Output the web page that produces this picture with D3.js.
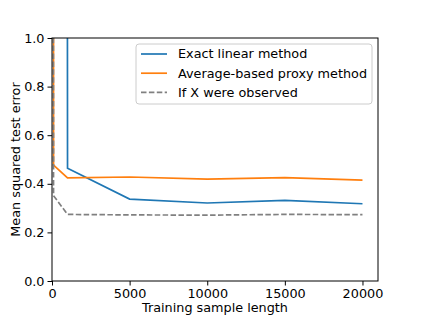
<!DOCTYPE html>
<html>
<head>
<meta charset="utf-8">
<script src="https://cdn.jsdelivr.net/npm/d3@7"></script>
<style>
  body { margin: 0; background: #ffffff; }
  text { font-family: "DejaVu Sans", sans-serif; }
</style>
</head>
<body>
<script>
// training sample lengths and mean squared test errors (values above 1 are off the top)
var sampleLengths = [10, 100, 1000, 5000, 10000, 15000, 20000];
var exactLinear = [300, 80, 0.464, 0.337, 0.321, 0.332, 0.318];
var proxyMethod = [20, 0.477, 0.424, 0.428, 0.419, 0.425, 0.415];
var ifObserved = [5, 0.351, 0.274, 0.272, 0.271, 0.274, 0.273];
var seriesNames = ["Exact linear method", "Average-based proxy method", "If X were observed"];
var xTicks = [0, 5000, 10000, 15000, 20000];
var yTicks = [0, 0.2, 0.4, 0.6, 0.8, 1.0];

var width = 421, height = 316,
    margin = { left: 52, top: 38, right: 43, bottom: 35 },
    plotW = width - margin.left - margin.right,
    plotH = height - margin.top - margin.bottom;

var series = [
    { name: seriesNames[0], values: exactLinear, color: "#1f77b4", dash: null },
    { name: seriesNames[1], values: proxyMethod, color: "#ff7f0e", dash: null },
    { name: seriesNames[2], values: ifObserved, color: "#808080", dash: "5.5,2.4" }
];

var x = d3.scaleLinear().domain([0, 21000]).range([0, plotW]);
var y = d3.scaleLinear().domain([0, 1]).range([plotH, 0]);

var svg = d3.select("body").append("svg")
    .attr("width", width)
    .attr("height", height);

var g = svg.append("g")
    .attr("transform", "translate(" + margin.left + "," + margin.top + ")");

g.append("clipPath").attr("id", "plotClip")
    .append("rect").attr("width", plotW).attr("height", plotH);

var line = d3.line()
    .x(function (d) { return x(d[0]); })
    .y(function (d) { return y(d[1]); });

g.append("g").attr("clip-path", "url(#plotClip)")
    .selectAll("path")
    .data(series)
    .enter().append("path")
    .attr("fill", "none")
    .attr("stroke", function (d) { return d.color; })
    .attr("stroke-width", 1.7)
    .attr("stroke-dasharray", function (d) { return d.dash; })
    .attr("d", function (d) { return line(d3.zip(sampleLengths, d.values)); });

// axes
var xAxis = g.append("g")
    .attr("transform", "translate(0," + plotH + ")")
    .call(d3.axisBottom(x).tickValues(xTicks).tickFormat(d3.format("d")).tickSizeOuter(0).tickSize(4.5).tickPadding(3));

var yAxis = g.append("g")
    .call(d3.axisLeft(y).tickValues(yTicks).tickFormat(d3.format(".1f")).tickSizeOuter(0).tickSize(4.5).tickPadding(3));

[xAxis, yAxis].forEach(function (a) {
    a.select(".domain").remove();
    a.selectAll("text").style("font-size", "12.8px").attr("fill", "#000");
    a.selectAll("line").attr("stroke", "#000").attr("stroke-width", 1);
});

// spines
g.append("rect")
    .attr("x", 0).attr("y", 0)
    .attr("width", plotW).attr("height", plotH)
    .attr("fill", "none")
    .attr("stroke", "#000")
    .attr("stroke-width", 1);

svg.append("text")
    .attr("x", margin.left + plotW / 2)
    .attr("y", 312)
    .attr("text-anchor", "middle")
    .style("font-size", "12.8px")
    .text("Training sample length");

svg.append("text")
    .attr("transform", "translate(20," + (margin.top + plotH / 2) + ") rotate(-90)")
    .attr("text-anchor", "middle")
    .style("font-size", "12.8px")
    .text("Mean squared test error");

// legend
var legend = svg.append("g").attr("transform", "translate(136,44)");

legend.append("rect")
    .attr("width", 236).attr("height", 60)
    .attr("rx", 3)
    .attr("fill", "#ffffff").attr("fill-opacity", 0.8)
    .attr("stroke", "#cccccc").attr("stroke-width", 1);

var item = legend.selectAll("g.item")
    .data(series)
    .enter().append("g")
    .attr("class", "item")
    .attr("transform", function (d, i) { return "translate(0," + (10 + i * 19.2) + ")"; });

item.append("line")
    .attr("x1", 5).attr("x2", 31)
    .attr("stroke", function (d) { return d.color; })
    .attr("stroke-width", 1.7)
    .attr("stroke-dasharray", function (d) { return d.dash; });

item.append("text")
    .attr("x", 42)
    .attr("dy", "0.35em")
    .style("font-size", "12.8px")
    .text(function (d) { return d.name; });
</script>
</body>
</html>
